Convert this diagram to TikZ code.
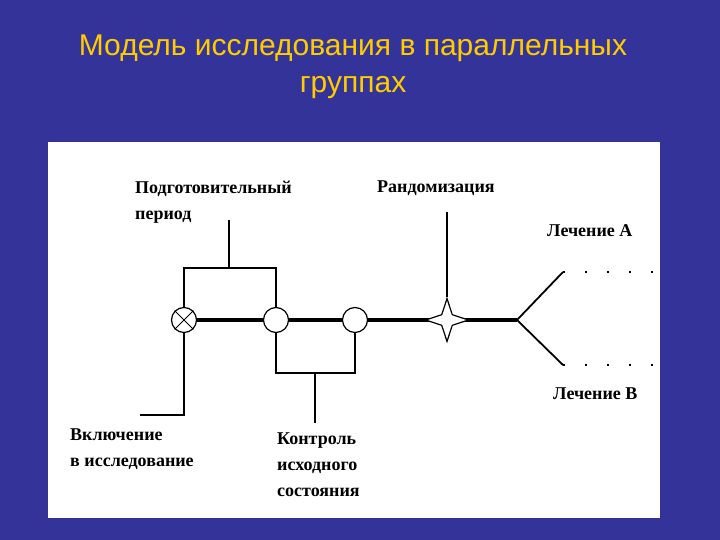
\documentclass[tikz,border=0pt]{standalone}
\usetikzlibrary{shapes.geometric}
\usepackage{fontspec}
\setmainfont{Liberation Serif}
\newfontfamily\titlefont{Liberation Sans}
\begin{document}
\begin{tikzpicture}[x=1pt,y=-1pt,
  lbl/.style={font=\bfseries\fontsize{18}{26}\selectfont,anchor=north west,align=left,inner sep=0},
  thin/.style={line width=1.8pt},
  thick/.style={line width=3.5pt},
  circ/.style={circle,draw,line width=1.2pt,fill=white,minimum size=25pt,inner sep=0}]
\fill[fill={rgb,255:red,51;green,51;blue,153}] (0,0) rectangle (720,540);
\useasboundingbox (0,0) rectangle (720,540);
\fill[white] (48,142) rectangle (660,518);
\node[text={rgb,255:red,255;green,204;blue,0},font=\titlefont\fontsize{30}{37}\selectfont,align=center] (title) at (353,67) {Модель исследования в параллельных\\группах};
% main line
\coordinate (fork) at (517,320);
\draw[thick] (184,320) -- (fork);
\node[circ] (c1) at (184,320) {};
\draw[line width=0.8pt] (c1.north east) -- (c1.south west) (c1.north west) -- (c1.south east);
\node[circ] (c2) at (276,320) {};
\node[circ] (c3) at (355,320) {};
\node[draw,fill=white,line width=1.2pt,star,star points=4,star point ratio=0.35,shape border rotate=45,minimum size=15pt,inner sep=0] (st) at (447,320) {};
% fork
\coordinate (a1) at (563,272); \coordinate (b1) at (563,365);
\coordinate (a2) at (655,272); \coordinate (b2) at (655,365);
\draw[thin] (fork) -- (a1) (fork) -- (b1);
\draw[line width=2pt,dash pattern=on 2pt off 20pt] (a1) -- (a2) (b1) -- (b2);
% brackets
\coordinate (tp) at (229,220);
\draw[thin] (c1.north) |- (229,268) -| (c2.north) (229,268) -- (tp);
\coordinate (bp) at (315,423);
\draw[thin] (c2.south) |- (315,373) -| (c3.south) (315,373) -- (bp);
\coordinate (lp) at (140,415);
\draw[line width=2.8pt] (c1.south) |- (lp);
\coordinate (rp) at (447,212);
\draw[thin] (rp) -- (st.north);
% labels
\node[lbl] (t1) at (135,181) {Подготовительный\\период};
\node[lbl] (t2) at (377,181) {Рандомизация};
\node[lbl] (t3) at (547,224) {Лечение А};
\node[lbl] (t4) at (553,388) {Лечение В};
\node[lbl] (t5) at (70,429) {Включение\\в исследование};
\node[lbl] (t6) at (277,433) {Контроль\\исходного\\состояния};
\end{tikzpicture}
\end{document}
